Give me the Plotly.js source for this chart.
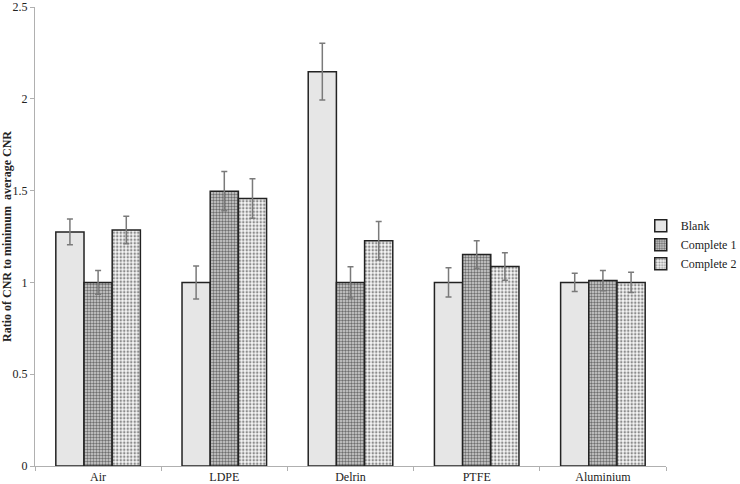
<!DOCTYPE html>
<html>
<head>
<meta charset="utf-8">
<script src="https://cdn.plot.ly/plotly-3.0.1.min.js"></script>
<style>html,body{margin:0;padding:0;background:#fff;}#chart{width:740px;height:484px;}</style>
</head>
<body>
<div id="chart"></div>
<script>
var categories = ["Air", "LDPE", "Delrin", "PTFE", "Aluminium"];
var blank = [1.275, 1.0, 2.148, 1.0, 1.0];
var blankErr = [0.07, 0.09, 0.155, 0.08, 0.05];
var complete1 = [1.0, 1.497, 1.0, 1.152, 1.01];
var complete1Err = [0.065, 0.107, 0.085, 0.075, 0.055];
var complete2 = [1.285, 1.457, 1.227, 1.087, 1.0];
var complete2Err = [0.075, 0.107, 0.105, 0.075, 0.055];
var seriesNames = ["Blank", "Complete 1", "Complete 2"];
var yTickVals = [0, 0.5, 1, 1.5, 2, 2.5];
var yTickText = ["0", "0.5", "1", "1.5", "2", "2.5"];

var errStyle = function(arr){
  return {type:'data', array:arr, visible:true, color:'#7a7a7a', thickness:1.5, width:3};
};
var lineStyle = {color:'#222', width:1.5};

var traces = [
  {type:'bar', name:seriesNames[0], x:categories, y:blank, error_y:errStyle(blankErr),
   marker:{color:'#e6e6e6', line:lineStyle}},
  {type:'bar', name:seriesNames[1], x:categories, y:complete1, error_y:errStyle(complete1Err),
   marker:{color:'#bdbdbd', line:lineStyle, pattern:{shape:'.', size:3, solidity:0.5, fgcolor:'#6e6e6e', bgcolor:'#d4d4d4'}}},
  {type:'bar', name:seriesNames[2], x:categories, y:complete2, error_y:errStyle(complete2Err),
   marker:{color:'#eeeeee', line:lineStyle, pattern:{shape:'.', size:3.5, solidity:0.4, fgcolor:'#8c8c8c', bgcolor:'#f6f6f6'}}}
];

var layout = {
  width:740, height:484,
  margin:{l:35, r:74, t:7, b:18, autoexpand:false},
  paper_bgcolor:'#fff', plot_bgcolor:'#fff',
  font:{family:'"Liberation Serif", "Times New Roman", serif', size:12, color:'#222'},
  barmode:'group', bargap:0.33, bargroupgap:0,
  showlegend:true,
  legend:{x:0.96, y:0.555, xanchor:'left', yanchor:'top', font:{size:12, color:'#222'},
          tracegroupgap:0, itemwidth:30, bgcolor:'rgba(0,0,0,0)'},
  xaxis:{type:'category', showline:true, linecolor:'#b0b0b0', linewidth:1,
         ticks:'outside', tickson:'boundaries', ticklen:4, tickcolor:'#b0b0b0',
         showgrid:false, zeroline:false, automargin:false, tickfont:{size:12}},
  yaxis:{range:[0,2.5], tickmode:'array', tickvals:yTickVals, ticktext:yTickText,
         showline:true, linecolor:'#b0b0b0', linewidth:1,
         ticks:'outside', ticklen:4, tickcolor:'#b0b0b0', showgrid:false, zeroline:false,
         automargin:false, tickfont:{size:12}, ticklabeloverflow:'allow',
         title:{text:'<b>Ratio of CNR to minimum  average CNR</b>', font:{size:12}, standoff:4}}
};

Plotly.newPlot('chart', traces, layout, {displayModeBar:false, staticPlot:true});
</script>
</body>
</html>
